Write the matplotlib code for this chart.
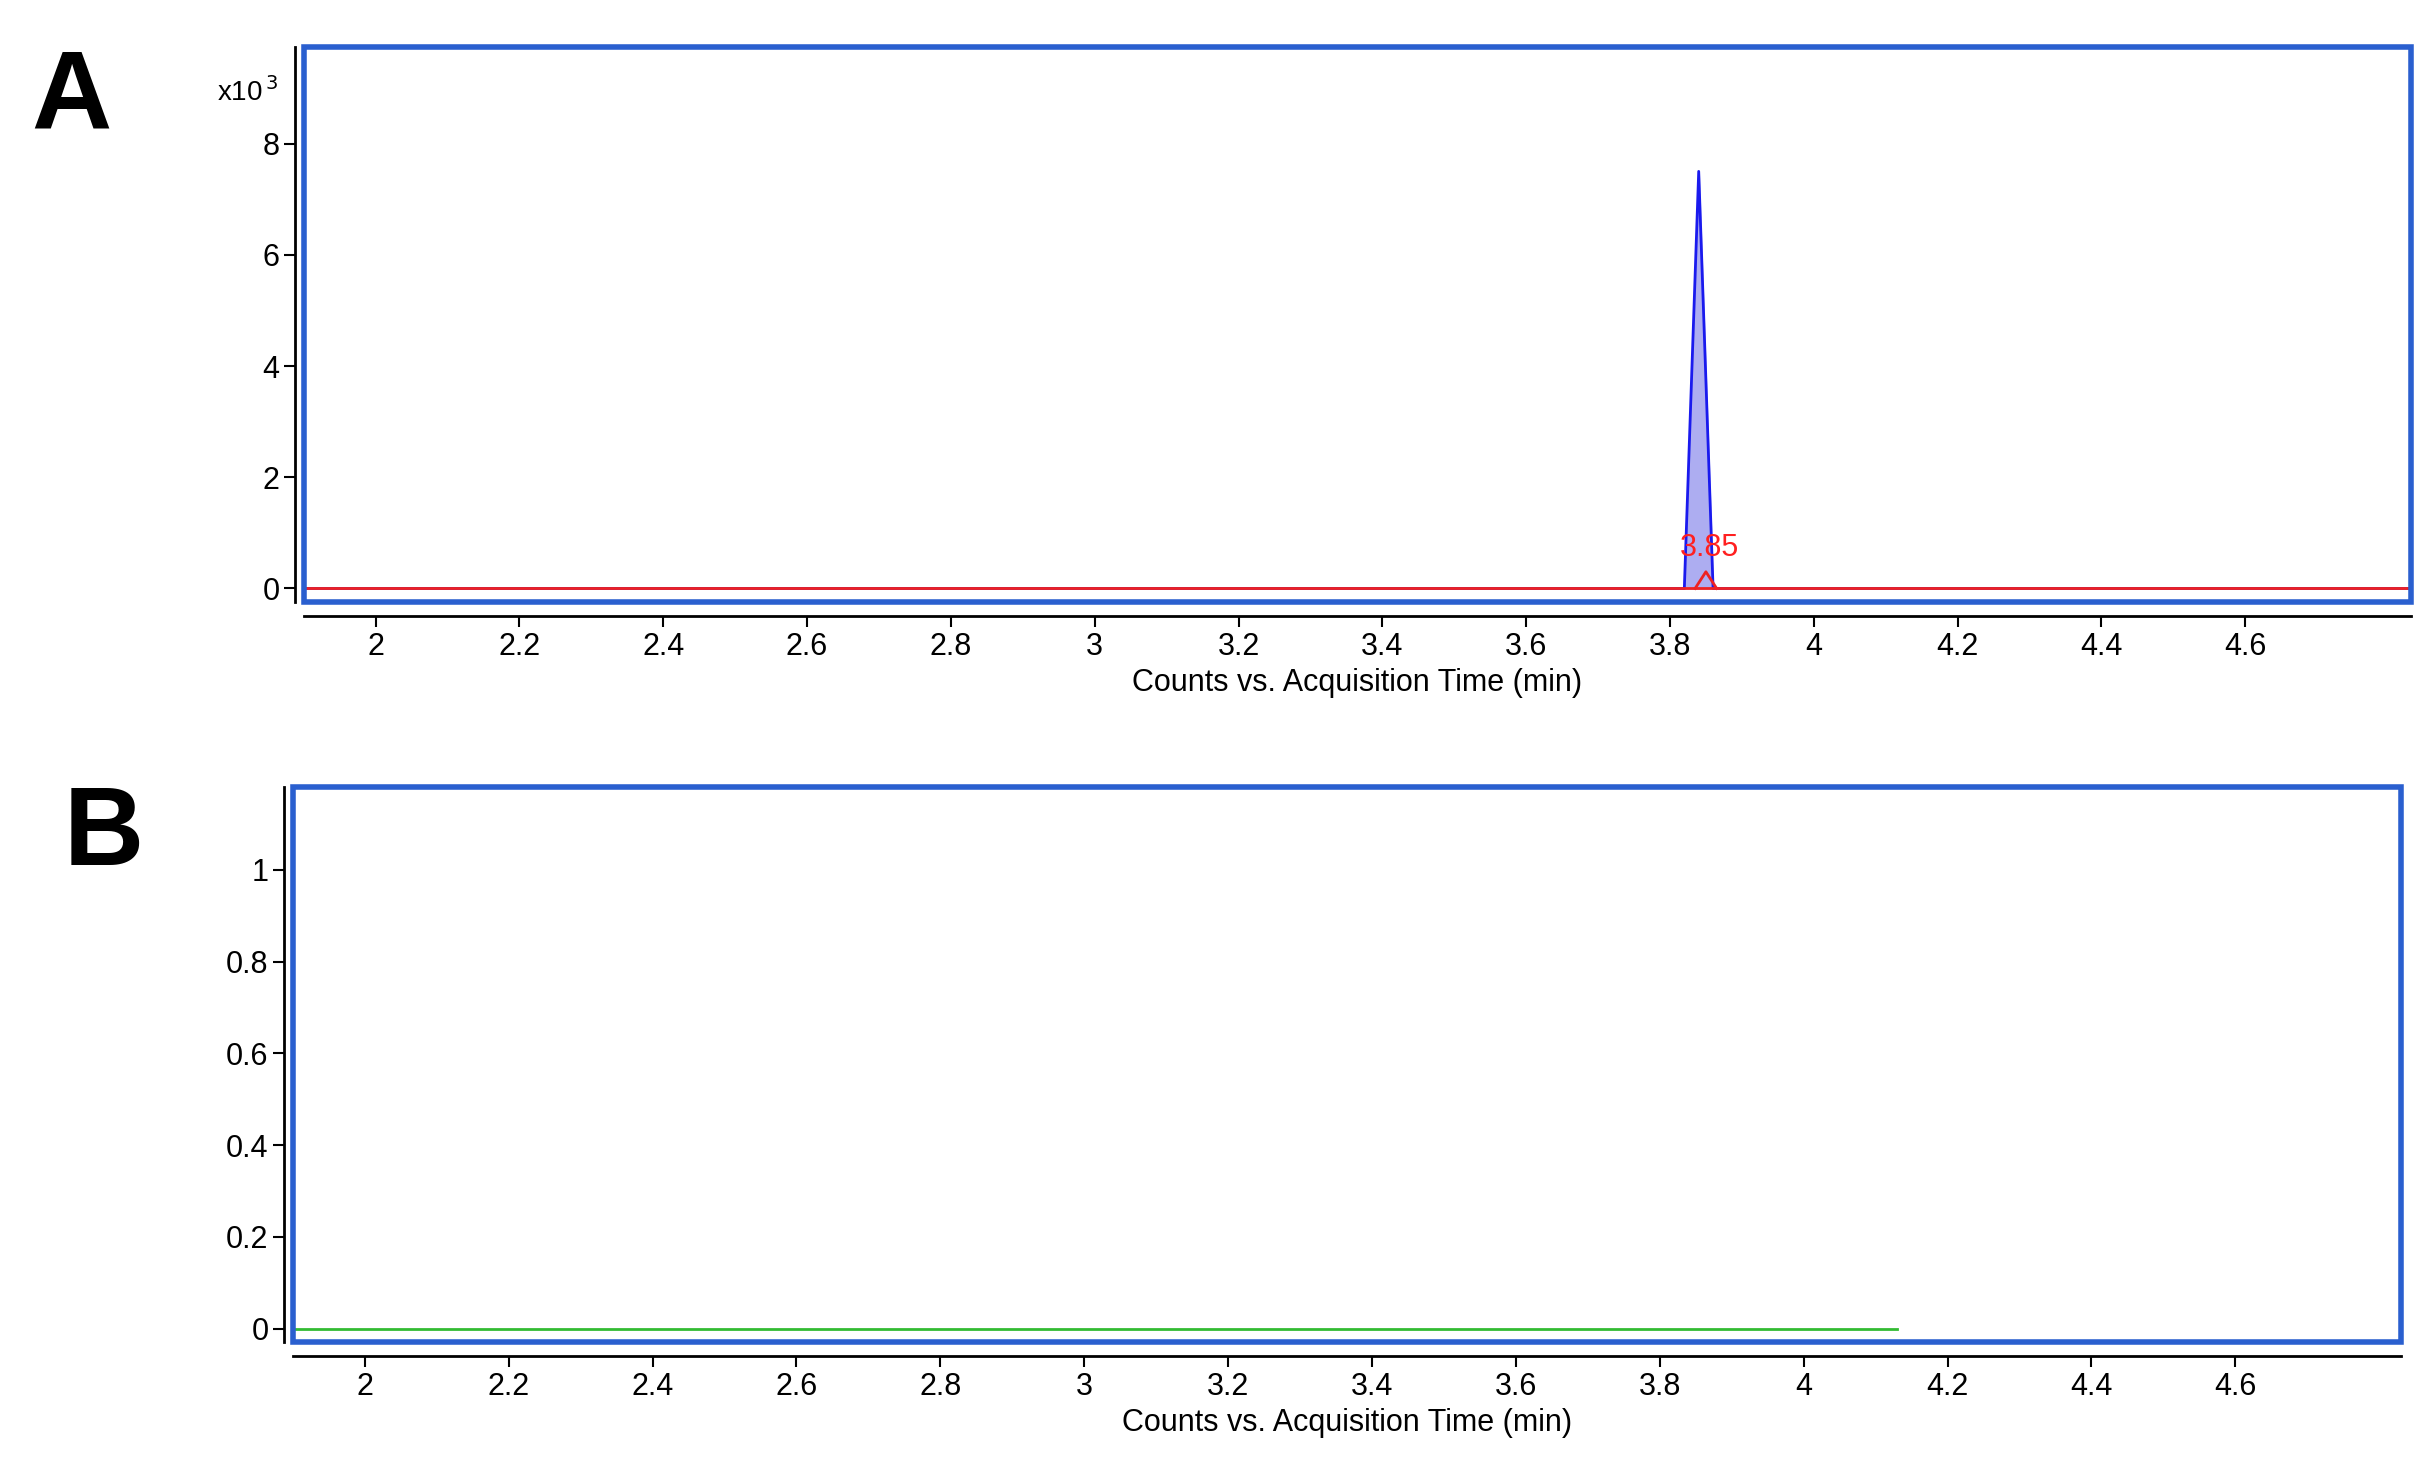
import matplotlib
matplotlib.use("Agg")
import matplotlib.pyplot as plt
from matplotlib.patches import Rectangle

# Panel A data (counts x10^3)
time_a = [1.9, 3.82, 3.84, 3.86, 4.83]
counts_a = [0.0, 0.0, 7.5, 0.0, 0.0]
baseline_a_t = [1.9, 4.83]
baseline_a_v = [0.0, 0.0]
peak_t = [3.835, 3.85, 3.865]
peak_v = [0.0, 0.3, 0.0]
peak_label = "3.85"
# Panel B data
time_b = [1.9, 4.13]
counts_b = [0.0, 0.0]

xticks = [2, 2.2, 2.4, 2.6, 2.8, 3, 3.2, 3.4, 3.6, 3.8, 4, 4.2, 4.4, 4.6]
xlabels = ["2", "2.2", "2.4", "2.6", "2.8", "3", "3.2", "3.4", "3.6", "3.8", "4", "4.2", "4.4", "4.6"]
yticks_a = [0, 2, 4, 6, 8]
yticks_b = [0, 0.2, 0.4, 0.6, 0.8, 1]
ylabels_b = ["0", "0.2", "0.4", "0.6", "0.8", "1"]

plt.rcParams['font.family'] = ['Liberation Sans', 'DejaVu Sans']
fig = plt.figure(figsize=(24.3, 14.8), dpi=100)
axA = fig.add_axes([0.125, 0.593, 0.867, 0.375])
axB = fig.add_axes([0.1205, 0.093, 0.8675, 0.375])

def style(ax, ylim, yt, yl):
    ax.set_xlim(1.9, 4.83)
    ax.set_ylim(*ylim)
    for s in ['top', 'right']:
        ax.spines[s].set_visible(False)
    for s in ['left', 'bottom']:
        ax.spines[s].set_color('black')
        ax.spines[s].set_linewidth(2)
    ax.spines['left'].set_position(('outward', 6))
    ax.spines['bottom'].set_position(('outward', 10))
    ax.add_patch(Rectangle((0, 0), 1, 1, transform=ax.transAxes, fill=False,
                           edgecolor='#2a5fcf', linewidth=4, clip_on=False, zorder=5))
    ax.set_xticks(xticks)
    ax.set_xticklabels(xlabels)
    ax.set_yticks(yt)
    ax.set_yticklabels(yl)
    ax.tick_params(labelsize=22, length=8, width=1.5, color='black')
    ax.set_xlabel("Counts vs. Acquisition Time (min)", fontsize=22, labelpad=4)

style(axA, (-0.25, 9.73), yticks_a, [str(v) for v in yticks_a])
style(axB, (-0.03, 1.18), yticks_b, ylabels_b)

axA.fill_between(time_a, counts_a, color='#9999ee', alpha=0.8)
axA.plot(time_a, counts_a, color='#1a1aee', lw=2)
axA.plot(baseline_a_t, baseline_a_v, color='#ee2222', lw=2)
axA.plot(peak_t, peak_v, color='#ee2222', lw=2)
axA.text(3.855, 0.45, peak_label, color='#ff2020', fontsize=22, ha='center', va='bottom')
axA.text(-0.012, 0.92, r"x10$^{\,3}$", transform=axA.transAxes, fontsize=20, va='center', ha='right')

axB.plot(time_b, counts_b, color='#33bb33', lw=2)

fig.text(0.013, 0.968, "A", fontsize=80, fontweight='bold', va='top')
fig.text(0.026, 0.47, "B", fontsize=80, fontweight='bold', va='top')

fig.savefig("out.png", dpi=100)
